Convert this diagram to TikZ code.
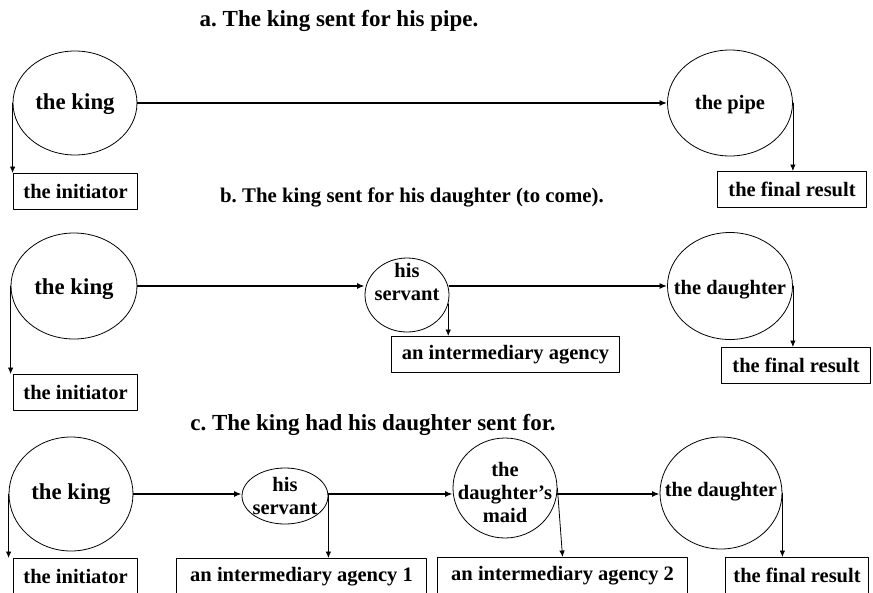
\documentclass[tikz,border=0pt]{standalone}
\usepackage{fontspec}
\setmainfont{Liberation Serif}
\frenchspacing
\usetikzlibrary{arrows.meta,shapes.geometric}
\newcommand{\inell}[2][0pt]{\makebox[0pt]{\smash{\raisebox{\dimexpr-.5\height+#1\relax}{\begin{tabular}[b]{@{}c@{}}#2\end{tabular}}}}}

\begin{document}
\begin{tikzpicture}[x=1pt, y=-1pt, line cap=round, line join=round,
    blob/.style={ellipse, draw, line width=0.8pt, inner sep=0pt, font=\fontsize{20.5}{23}\selectfont\bfseries},
    big/.style={font=\fontsize{22.8}{25}\selectfont\bfseries},
    tag/.style={draw, line width=1.1pt, anchor=north west, minimum height=36pt, inner sep=0pt, font=\fontsize{20.5}{23}\selectfont\bfseries},
    head/.style={font=\fontsize{23}{26}\selectfont\bfseries},
    flow/.style={line width=1.7pt, -{Latex[length=7.5pt,width=6pt]}},
    drop/.style={line width=0.8pt, -{Latex[length=6.5pt,width=5.5pt]}}]
    \useasboundingbox (0,0) rectangle (873,592);
    \clip (0,0) rectangle (873,592);
    % a
    \node[head] (titleA) at (339,21) {a. The king sent for his pipe.};
    \node[blob, big, minimum width=124pt, minimum height=104pt] (kingA) at (75,103) {\inell[2pt]{the king}};
    \node[blob, minimum width=125pt, minimum height=106pt] (pipeA) at (730,103) {\inell[2pt]{the pipe}};
    \node[tag, minimum width=124pt] (iniA) at (13,173) {the initiator};
    \node[tag, minimum width=149pt] (resA) at (717,171) {the final result};
    \draw[flow] (kingA.east) -- (pipeA.west);
    \draw[drop] (kingA.west) -- (kingA.west |- iniA.north);
    \draw[drop] (pipeA.east) -- (pipeA.east |- resA.north);
    % b
    \node[head, font=\fontsize{20.8}{24}\selectfont\bfseries] (titleB) at (412,197) {b. The king sent for his daughter (to come).};
    \node[blob, big, minimum width=126pt, minimum height=106pt] (kingB) at (74,286) {\inell{the king}};
    \node[blob, minimum width=84pt, minimum height=74pt] (servB) at (407,295) {\inell[14pt]{his\\servant}};
    \node[blob, minimum width=125pt, minimum height=107pt] (daugB) at (730,286) {\inell{the daughter}};
    \node[tag, minimum width=124pt] (iniB) at (13,374) {the initiator};
    \node[tag, minimum width=228pt] (ageB) at (391,336) {an intermediary agency};
    \node[tag, minimum width=149pt] (resB) at (721,347) {the final result};
    \draw[flow] (kingB.east) -- (kingB.east -| servB.west);
    \draw[flow] (servB.east |- daugB.west) -- (daugB.west);
    \draw[drop] (kingB.west) -- (kingB.west |- iniB.north);
    \draw[drop] (servB.-12) -- (servB.-12 |- ageB.north);
    \draw[drop] (daugB.east) -- (daugB.east |- resB.north);
    % c
    \node[head] (titleC) at (373,425) {c. The king had his daughter sent for.};
    \node[blob, big, minimum width=124pt, minimum height=114pt] (kingC) at (71,494) {\inell[3pt]{the king}};
    \node[blob, minimum width=86pt, minimum height=56pt] (servC) at (285,496) {\inell[1pt]{his\\servant}};
    \node[blob, minimum width=104pt, minimum height=100pt] (maidC) at (505,488) {\inell[-3pt]{the\\daughter’s\\maid}};
    \node[blob, minimum width=122pt, minimum height=112pt] (daugC) at (721,493) {\inell[5pt]{the daughter}};
    \node[tag, minimum width=124pt] (iniC) at (13,558) {the initiator};
    \node[tag, minimum width=250pt] (ageC1) at (176,558) {an intermediary agency 1};
    \node[tag, minimum width=250pt] (ageC2) at (437,557) {an intermediary agency 2};
    \node[tag, minimum width=143pt] (resC) at (725,557) {the final result};
    \draw[flow] (kingC.east) -- (kingC.east -| servC.west);
    \draw[flow] (servC.east |- kingC.east) -- (kingC.east -| maidC.west);
    \draw[flow] (maidC.east |- kingC.east) -- (kingC.east -| daugC.west);
    \draw[drop] (kingC.west) -- (kingC.west |- iniC.north);
    \draw[drop] (servC.east |- kingC.east) -- (servC.east |- ageC1.north);
    \draw[drop] (maidC.east) -- (ageC2.north);
    \draw[drop] (daugC.east) -- (daugC.east |- resC.north);
\end{tikzpicture}
\end{document}
